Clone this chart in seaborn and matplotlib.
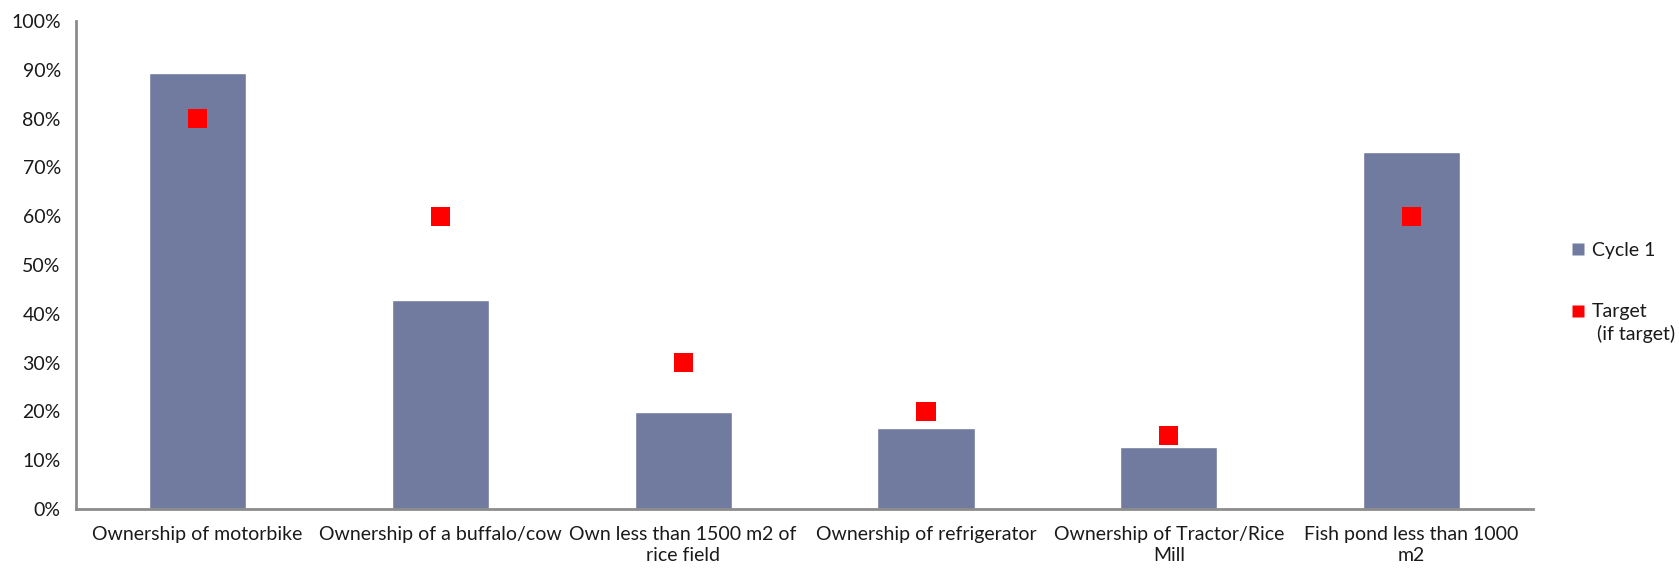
import numpy as np
import pandas as pd
import matplotlib
matplotlib.use("Agg")
import matplotlib.pyplot as plt
from matplotlib.ticker import PercentFormatter, MultipleLocator
from matplotlib.lines import Line2D
import seaborn as sns

# Indicator categories (x axis)
categories = [
    "Ownership of motorbike",
    "Ownership of a buffalo/cow",
    "Own less than 1500 m2 of\nrice field",
    "Ownership of refrigerator",
    "Ownership of Tractor/Rice\nMill",
    "Fish pond less than 1000\nm2",
]
# Share of households, Cycle 1
cycle1 = [0.893, 0.428, 0.198, 0.166, 0.128, 0.732]
# Target shares
target = [0.80, 0.60, 0.30, 0.20, 0.15, 0.60]

bar_color = "#717ba0"
marker_color = "#ff0000"
text_color = "#1a1a1a"
fs = 14

sns.set_theme(style="white")
plt.rcParams["font.family"] = ["Lato", "DejaVu Sans"]

fig = plt.figure(figsize=(16.79, 5.69), dpi=100)
ax = fig.add_axes([0.0453, 0.1054, 0.8678, 0.8577])

df = pd.DataFrame({"category": categories, "Cycle 1": cycle1, "Target": target})

sns.barplot(data=df, x="category", y="Cycle 1", color=bar_color, width=0.40,
            saturation=1, ax=ax, order=categories)
sns.scatterplot(x=np.arange(len(categories)), y=df["Target"], marker="s",
                s=13.7 ** 2, color=marker_color, edgecolor="none", ax=ax,
                zorder=3, legend=False)

ax.set_xlim(-0.5, len(categories) - 0.5)
ax.set_ylim(0, 1)
ax.yaxis.set_major_locator(MultipleLocator(0.1))
ax.yaxis.set_major_formatter(PercentFormatter(1, decimals=0))
ax.set_xlabel("")
ax.set_ylabel("")

for side in ["top", "right"]:
    ax.spines[side].set_visible(False)
for side in ["left", "bottom"]:
    ax.spines[side].set_color("#8c8c8c")
    ax.spines[side].set_linewidth(2)

ax.tick_params(axis="y", length=0, pad=11, labelsize=fs, labelcolor=text_color)
ax.tick_params(axis="x", length=0, pad=12, labelsize=fs, labelcolor=text_color)
for lbl in ax.get_xticklabels():
    lbl.set_horizontalalignment("center")
    lbl.set_multialignment("center")
    lbl.set_linespacing(1.3)

# Legend: series swatches with labels, second line of the target label below
handles = [
    Line2D([], [], linestyle="none", marker="s", markersize=9,
           markerfacecolor=bar_color, markeredgecolor="none"),
    Line2D([], [], linestyle="none", marker="s", markersize=9,
           markerfacecolor=marker_color, markeredgecolor="none"),
]
labels = ["Cycle 1", "Target"]
leg = fig.legend(handles, labels, loc="upper left",
                 bbox_to_anchor=(1562 / 1679, 1 - 234 / 569),
                 frameon=False, fontsize=fs, handlelength=0.8,
                 handletextpad=0.35, labelspacing=2.3, borderaxespad=0,
                 labelcolor=text_color)
fig.text(1597 / 1679, 1 - 334 / 569, "(if target)", fontsize=fs,
         color=text_color, ha="left", va="center")

fig.savefig("out.png", dpi=100, facecolor="white")
